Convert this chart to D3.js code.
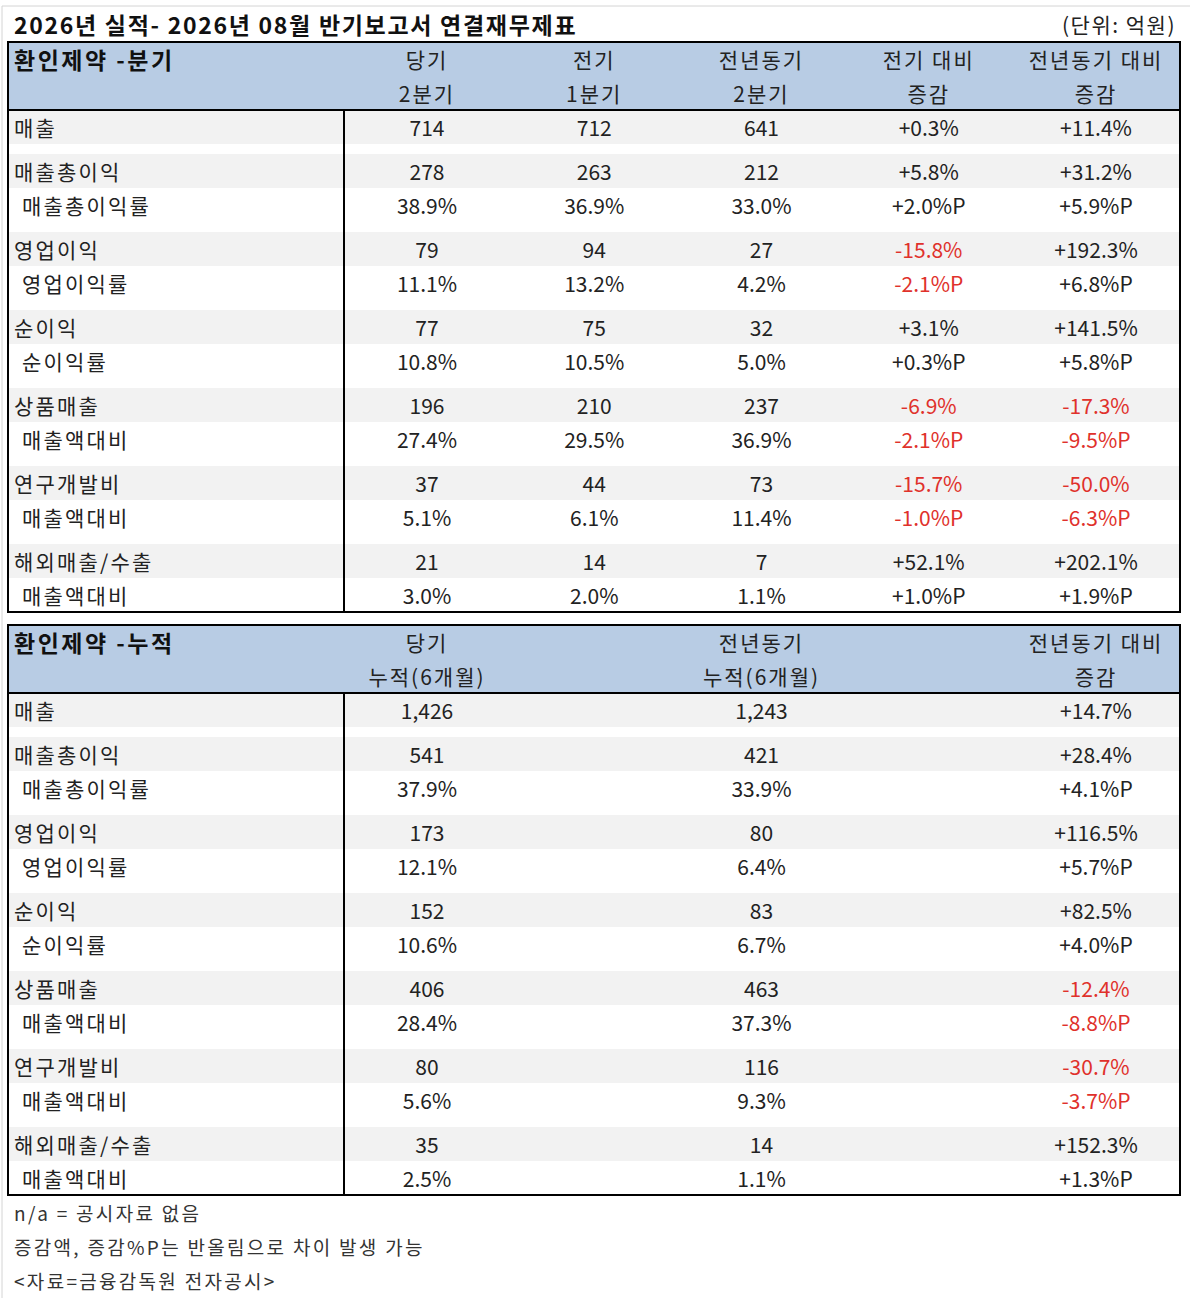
<!DOCTYPE html>
<html>
<head>
<meta charset="utf-8">
<script src="https://cdn.jsdelivr.net/npm/d3@7"></script>
<style>
body{margin:0;background:#fff}
text{font-family:"Noto Sans CJK KR","Noto Sans",sans-serif}
</style>
</head>
<body>
<script>
const W=1190,H=1298;

// texts
const titleText="2026년 실적- 2026년 08월 반기보고서 연결재무제표";
const unitText="(단위: 억원)";
const notes=["n/a = 공시자료 없음","증감액, 증감%P는 반올림으로 차이 발생 가능","<자료=금융감독원 전자공시>"];

// row labels (sub rows are ratios)
const rowLabels=["매출","매출총이익","매출총이익률","영업이익","영업이익률","순이익","순이익률","상품매출","매출액대비","연구개발비","매출액대비","해외매출/수출","매출액대비"];
const rowIsSub=[0,0,1,0,1,0,1,0,1,0,1,0,1];

// quarter table
const qTitle="환인제약 -분기";
const qHeaders=[["당기","2분기"],["전기","1분기"],["전년동기","2분기"],["전기 대비","증감"],["전년동기 대비","증감"]];
const qCur=[714,278,38.9,79,11.1,77,10.8,196,27.4,37,5.1,21,3.0];
const qPrev=[712,263,36.9,94,13.2,75,10.5,210,29.5,44,6.1,14,2.0];
const qYoy=[641,212,33.0,27,4.2,32,5.0,237,36.9,73,11.4,7,1.1];
const qChgPrev=[0.3,5.8,2.0,-15.8,-2.1,3.1,0.3,-6.9,-2.1,-15.7,-1.0,52.1,1.0];
const qChgYoy=[11.4,31.2,5.9,192.3,6.8,141.5,5.8,-17.3,-9.5,-50.0,-6.3,202.1,1.9];

// cumulative table
const cTitle="환인제약 -누적";
const cHeaders=[["당기","누적(6개월)"],["전년동기","누적(6개월)"],["전년동기 대비","증감"]];
const cCur=[1426,541,37.9,173,12.1,152,10.6,406,28.4,80,5.6,35,2.5];
const cYoy=[1243,421,33.9,80,6.4,83,6.7,463,37.3,116,9.3,14,1.1];
const cChg=[14.7,28.4,4.1,116.5,5.7,82.5,4.0,-12.4,-8.8,-30.7,-3.7,152.3,1.3];

const loc=d3.formatLocale({decimal:".",thousands:",",grouping:[3],currency:["",""],minus:"-"});
const fAmt=loc.format(",d"), fPct=loc.format(".1f"), fChg=loc.format("+.1f");

const svg=d3.select("body").append("svg").attr("width",W).attr("height",H);

// faint frame
svg.append("line").attr("x1",2).attr("x2",W).attr("y1",6).attr("y2",6).attr("stroke","#d4d4d4");
svg.append("line").attr("x1",2).attr("x2",2).attr("y1",6).attr("y2",H).attr("stroke","#d4d4d4");

svg.append("text").attr("x",14).attr("y",24).attr("dominant-baseline","central")
    .attr("font-size",23).attr("font-weight","bold").attr("letter-spacing",1.7).attr("fill","#111").text(titleText);
svg.append("text").attr("x",1176).attr("y",24).attr("dominant-baseline","central")
    .attr("text-anchor","end").attr("font-size",21).attr("letter-spacing",1.5).attr("fill","#222").text(unitText);

const L=8,R=1180,divX=344,headH=68;
// row units: each row 1, spacer before a main row
const unit=[];let acc=0;
rowLabels.forEach((d,i)=>{if(i>0&&!rowIsSub[i])acc+=10/34;unit.push(acc);acc+=1});
const totalUnits=acc;

const colPos=d3.scalePoint().domain(d3.range(5)).range([427,1096]);

function drawTable(top,title,headers,cols,series){
    const g=svg.append("g");
    const bodyTop=top+headH, bodyBot=bodyTop+502;
    const y=d3.scaleLinear().domain([0,totalUnits]).range([bodyTop,bodyBot]);

    g.append("rect").attr("x",L).attr("y",top).attr("width",R-L).attr("height",headH).attr("fill","#b8cce4");
    g.selectAll("rect.band").data(d3.range(rowLabels.length).filter(i=>!rowIsSub[i])).enter()
        .append("rect").attr("class","band")
        .attr("x",L).attr("width",R-L)
        .attr("y",i=>y(unit[i])).attr("height",i=>y(unit[i]+1)-y(unit[i]))
        .attr("fill","#f2f2f2");

    g.append("text").attr("x",14).attr("y",top+17).attr("dominant-baseline","central")
        .attr("font-size",23).attr("font-weight","bold").attr("letter-spacing",2.5).attr("fill","#111").text(title);
    headers.forEach((h,j)=>{
        h.forEach((t,k)=>{
            g.append("text").attr("x",colPos(cols[j])).attr("y",top+17+k*34)
                .attr("text-anchor","middle").attr("dominant-baseline","central")
                .attr("font-size",21).attr("letter-spacing",2).attr("fill","#222").text(t);
        });
    });

    g.selectAll("text.lab").data(rowLabels).enter().append("text").attr("class","lab")
        .attr("x",(d,i)=>rowIsSub[i]?22:14)
        .attr("y",(d,i)=>y(unit[i]+0.5))
        .attr("dominant-baseline","central").attr("font-size",21).attr("letter-spacing",2.2).attr("fill","#222")
        .text(d=>d);

    series.forEach((s,j)=>{
        g.selectAll("text.v"+j).data(s.values).enter().append("text").attr("class","v"+j)
            .attr("x",colPos(cols[j]))
            .attr("y",(d,i)=>y(unit[i]+0.5))
            .attr("text-anchor","middle").attr("dominant-baseline","central").attr("font-size",21)
            .attr("fill",d=>s.change&&d<0?"#e0312b":"#222")
            .text((d,i)=>s.change?fChg(d)+(rowIsSub[i]?"%P":"%"):(rowIsSub[i]?fPct(d)+"%":fAmt(d)));
    });

    g.append("rect").attr("x",L).attr("y",top).attr("width",R-L).attr("height",bodyBot-top)
        .attr("fill","none").attr("stroke","#000").attr("stroke-width",2);
    g.append("line").attr("x1",L).attr("x2",R).attr("y1",bodyTop).attr("y2",bodyTop).attr("stroke","#000").attr("stroke-width",2);
    g.append("line").attr("x1",divX).attr("x2",divX).attr("y1",bodyTop).attr("y2",bodyBot).attr("stroke","#000").attr("stroke-width",2);
}

drawTable(42,qTitle,qHeaders,[0,1,2,3,4],[
    {values:qCur},{values:qPrev},{values:qYoy},
    {values:qChgPrev,change:true},{values:qChgYoy,change:true}]);
drawTable(625,cTitle,cHeaders,[0,2,4],[
    {values:cCur},{values:cYoy},{values:cChg,change:true}]);

svg.selectAll("text.note").data(notes).enter().append("text").attr("class","note")
    .attr("x",14).attr("y",(d,i)=>1212+i*34).attr("dominant-baseline","central")
    .attr("font-size",19).attr("letter-spacing",2.3).attr("fill","#333").text(d=>d);
</script>
</body>
</html>
